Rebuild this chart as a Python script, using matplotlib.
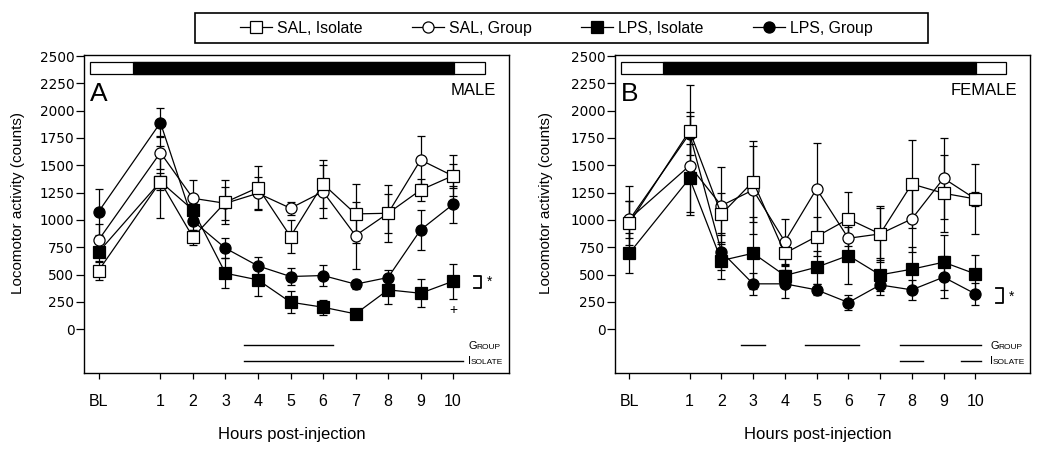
import matplotlib
matplotlib.use('Agg')
import matplotlib.pyplot as plt
from matplotlib.lines import Line2D
from matplotlib.patches import Rectangle

plt.rcParams['font.family'] = ['Liberation Sans', 'DejaVu Sans']

# x axis: baseline + hours post-injection
hour_labels = ['BL', '1', '2', '3', '4', '5', '6', '7', '8', '9', '10']
xpos = [-0.9, 1, 2, 3, 4, 5, 6, 7, 8, 9, 10]

# MALE
sal_iso_m = [537, 1351, 841, 1162, 1296, 848, 1329, 1055, 1061, 1274, 1405]
sal_iso_m_err = [90, 330, 70, 200, 200, 150, 220, 270, 260, 100, 190]
sal_grp_m = [817, 1616, 1198, 1152, 1244, 1107, 1259, 857, 1061, 1549, 1402]
sal_grp_m_err = [150, 150, 170, 150, 150, 60, 240, 310, 180, 220, 110]
lps_iso_m = [707, 1351, 1091, 512, 451, 247, 201, 140, 360, 329, 439]
lps_iso_m_err = [90, 80, 60, 135, 150, 100, 70, 30, 125, 130, 160]
lps_grp_m = [1076, 1890, 991, 741, 579, 482, 491, 412, 473, 909, 1143]
lps_grp_m_err = [210, 130, 80, 90, 80, 75, 100, 40, 70, 180, 170]

# FEMALE
sal_iso_f = [970, 1817, 1052, 1351, 695, 848, 1009, 872, 1329, 1244, 1192]
sal_iso_f_err = [200, 420, 190, 370, 120, 180, 250, 260, 400, 350, 320]
sal_grp_f = [1009, 1497, 1131, 1274, 802, 1284, 832, 872, 1009, 1381, 1192]
sal_grp_f_err = [300, 450, 350, 400, 210, 420, 130, 240, 300, 370, 60]
lps_iso_f = [695, 1381, 628, 695, 491, 567, 674, 497, 549, 613, 506]
lps_iso_f_err = [185, 310, 170, 330, 100, 150, 260, 150, 200, 250, 170]
lps_grp_f = [1000, 1790, 710, 415, 415, 360, 244, 405, 360, 476, 323]
lps_grp_f_err = [170, 200, 170, 100, 130, 50, 70, 90, 90, 190, 100]

# significance bars under the data (hour ranges)
group_sig_m = [(3.58, 6.32)]
isolate_sig_m = [(3.58, 10.30)]
group_sig_f = [(2.61, 3.37), (4.62, 6.35), (7.63, 10.19)]
isolate_sig_f = [(7.63, 8.35), (9.54, 10.19)]

# light / dark phases (hours)
light1 = (-1.17, 0.15)
dark = (0.15, 10.02)
light2 = (10.02, 10.98)

series_style = [
    # label, marker, face, size
    ('LPS, Group', 'o', 'black', 8),
    ('LPS, Isolate', 's', 'black', 8.5),
    ('SAL, Group', 'o', 'white', 8),
    ('SAL, Isolate', 's', 'white', 8.5),
]

fig = plt.figure(figsize=(10.5, 4.55), dpi=100)
axA = fig.add_axes([0.080, 0.180, 0.4048, 0.699])
axB = fig.add_axes([0.5857, 0.180, 0.3952, 0.699])


def small_caps(ax, x, y, word):
    t = ax.text(x, y, word[0], fontsize=8, ha='left', va='baseline')
    ax.annotate(word[1:].upper(), xy=(1, 0), xycoords=t, fontsize=6,
                xytext=(-0.6, 0), textcoords='offset points',
                ha='left', va='bottom')


def panel(ax, data, letter, sex, gsig, isig, bracket, star_y, label_x):
    for (lab, mk, fc, ms), (y, e) in zip(series_style, data):
        ax.errorbar(xpos, y, yerr=e, fmt='none', ecolor='black',
                    elinewidth=0.9, capsize=3.2, capthick=0.9, zorder=2)
        ax.plot(xpos, y, '-', color='black', lw=0.9, marker=mk, ms=ms,
                mfc=fc, mec='black', mew=0.9, zorder=3)

    # light-dark bar
    ax.add_patch(Rectangle((light1[0], 2335), light2[1] - light1[0], 115,
                           fc='white', ec='black', lw=0.9, zorder=4))
    ax.add_patch(Rectangle((dark[0], 2335), dark[1] - dark[0], 115,
                           fc='black', ec='black', lw=0.9, zorder=5))

    for a, b in gsig:
        ax.plot([a, b], [-145, -145], color='black', lw=1.0)
    for a, b in isig:
        ax.plot([a, b], [-290, -290], color='black', lw=1.0)
    small_caps(ax, 10.47, -185, 'Group')
    small_caps(ax, 10.47, -322, 'Isolate')

    lo, hi = bracket
    ax.plot([10.65, 10.86, 10.86, 10.65], [hi, hi, lo, lo], color='black', lw=1.3)
    ax.text(11.05, star_y, '*', fontsize=10, ha='left', va='center')

    ax.text(0.013, 0.855, letter, transform=ax.transAxes, fontsize=19,
            ha='left', va='baseline')
    ax.text(0.97, 0.874, sex, transform=ax.transAxes, fontsize=12,
            ha='right', va='baseline')

    ax.set_xlim(-1.35, 11.72)
    ax.set_ylim(-402, 2509)
    ax.set_yticks(range(0, 2501, 250))
    ax.set_xticks(xpos)
    ax.set_xticklabels(hour_labels)
    ax.tick_params(axis='x', direction='out', length=4, width=0.9, pad=11,
                   labelsize=11.5)
    ax.tick_params(axis='y', direction='out', length=6, width=0.9, pad=1.0,
                   labelsize=9.8)
    for t in ax.get_yticklabels():
        t.set_fontfamily('DejaVu Sans')
    for s in ax.spines.values():
        s.set_linewidth(1.0)
    ax.set_ylabel('Locomotor activity (counts)', fontsize=11)
    ax.yaxis.set_label_coords(label_x, 0.535)
    ax.set_xlabel('Hours post-injection', fontsize=12)
    ax.xaxis.set_label_coords(0.488, -0.17)


panel(axA,
      [(lps_grp_m, lps_grp_m_err), (lps_iso_m, lps_iso_m_err),
       (sal_grp_m, sal_grp_m_err), (sal_iso_m, sal_iso_m_err)],
      'A', 'MALE', group_sig_m, isolate_sig_m, (375, 488), 436, -0.139)
axA.text(10, 171, '+', fontsize=10, ha='center', va='center')

panel(axB,
      [(lps_grp_f, lps_grp_f_err), (lps_iso_f, lps_iso_f_err),
       (sal_grp_f, sal_grp_f_err), (sal_iso_f, sal_iso_f_err)],
      'B', 'FEMALE', group_sig_f, isolate_sig_f, (244, 375), 300, -0.149)

# legend on top, with a wide hand-drawn frame
handles = []
for i in [3, 2, 1, 0]:
    lab, mk, fc, ms = series_style[i]
    handles.append(Line2D([], [], color='black', lw=0.9, marker=mk, ms=ms,
                          mfc=fc, mec='black', mew=0.9, label=lab))
fig.legend(handles=handles, loc='center', bbox_to_anchor=(0.530, 0.938),
           ncol=4, frameon=False, fontsize=11.4, handlelength=2.0,
           handletextpad=0.35, columnspacing=3.1, borderaxespad=0)
fig.patches.append(Rectangle((0.1857, 0.9055), 0.698, 0.0659,
                             transform=fig.transFigure, fill=False,
                             ec='black', lw=1.2))

fig.savefig('out.png', dpi=100)
